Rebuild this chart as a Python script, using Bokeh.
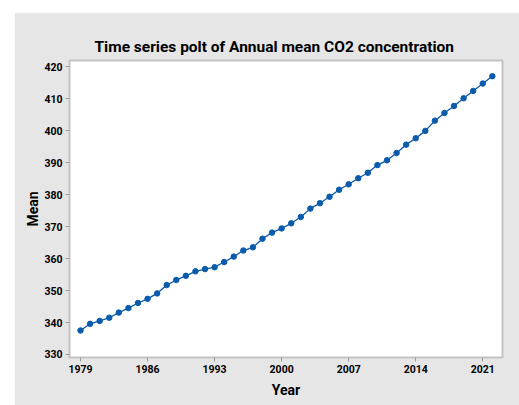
from bokeh.plotting import figure
from bokeh.models import FixedTicker, Range1d
from bokeh.embed import file_html
from bokeh.resources import INLINE

years = list(range(1979, 2023))
co2_mean = [337.5, 339.6, 340.5, 341.5, 343.1, 344.5, 346.1, 347.4, 349.1, 351.7,
            353.3, 354.6, 356.0, 356.7, 357.3, 358.9, 360.6, 362.5, 363.5, 366.2,
            368.1, 369.4, 371.0, 373.0, 375.6, 377.3, 379.3, 381.5, 383.2, 385.1,
            386.8, 389.2, 390.7, 393.0, 395.6, 397.6, 399.9, 403.1, 405.5, 407.7,
            410.1, 412.4, 414.7, 417.0]
x_ticks = [1979, 1986, 1993, 2000, 2007, 2014, 2021]
y_ticks = [330, 340, 350, 360, 370, 380, 390, 400, 410, 420]

FONT = "Roboto"
GREY_BG = "#e6e6e6"
BORDER = "#c4c4c4"
BLUE = "#0a5bab"

p = figure(width=505, height=393, output_backend="svg", toolbar_location=None,
           x_range=Range1d(1977.85, 2023.06), y_range=Range1d(329.06, 421.9),
           title="Time series polt of Annual mean CO2 concentration",
           min_border_left=55, min_border_right=17, min_border_top=48, min_border_bottom=48)
p.margin = (12, 0, 0, 14)
p.background_fill_color = "white"
p.border_fill_color = GREY_BG
p.outline_line_color = BORDER
p.outline_line_width = 2

p.title.text_font = FONT
p.title.text_font_size = "15.5px"
p.title.text_font_style = "bold"
p.title.align = "left"
p.title.offset = 25
p.title.standoff = 10
p.title.text_color = "black"

p.xgrid.visible = False
p.ygrid.visible = False

for ax in (p.xaxis, p.yaxis):
    ax.axis_line_color = BORDER
    ax.major_tick_line_color = "#9a9a9a"
    ax.major_tick_in = 0
    ax.major_tick_out = 4
    ax.minor_tick_line_color = None
    ax.major_label_text_font = FONT
    ax.major_label_text_font_size = "10.5px"
    ax.major_label_text_font_style = "bold"
    ax.major_label_text_color = "black"
    ax.major_label_standoff = 3
    ax.axis_label_text_font = FONT
    ax.axis_label_text_font_size = "14px"
    ax.axis_label_text_font_style = "bold"
    ax.axis_label_text_color = "black"

p.xaxis.ticker = FixedTicker(ticks=x_ticks)
p.yaxis.ticker = FixedTicker(ticks=y_ticks)
p.xaxis.axis_label = "Year"
p.yaxis.axis_label = "Mean"
p.xaxis.axis_label_standoff = 6
p.yaxis.axis_label_standoff = 0

p.line(years, co2_mean, line_color=BLUE, line_width=1.3)
p.scatter(years, co2_mean, size=5.5, fill_color=BLUE, line_color=BLUE)

open("out.html", "w").write(file_html(p, INLINE))
